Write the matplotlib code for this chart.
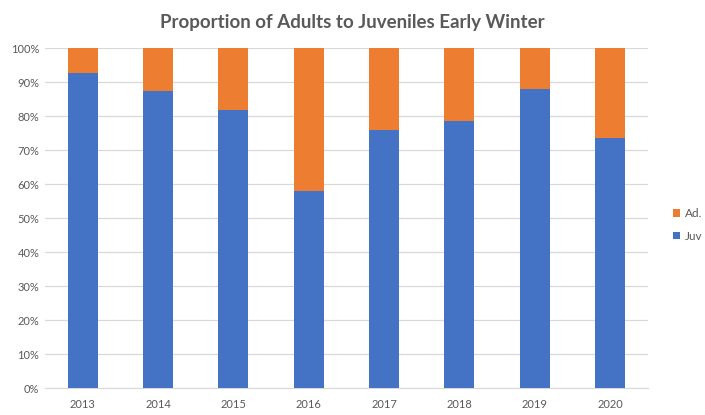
import matplotlib.pyplot as plt
from matplotlib.ticker import PercentFormatter

years = ['2013', '2014', '2015', '2016', '2017', '2018', '2019', '2020']
juv = [92.6, 87.4, 81.8, 57.9, 76.0, 78.6, 87.9, 73.5]
ad = [100 - v for v in juv]

plt.rcParams['font.family'] = ['Lato', 'DejaVu Sans']
grey = '#595959'

fig = plt.figure(figsize=(7.05, 4.15), dpi=100)
ax = fig.add_axes([0.0638, 0.065, 0.855, 0.819])

x = range(len(years))
b_juv = ax.bar(x, juv, width=0.4, color='#4472C4', label='Juv', zorder=3)
b_ad = ax.bar(x, ad, width=0.4, bottom=juv, color='#ED7D31', label='Ad.', zorder=3)

ax.set_xlim(-0.5, len(years) - 0.5)
ax.set_ylim(0, 100)
ax.set_yticks(range(0, 101, 10))
ax.yaxis.set_major_formatter(PercentFormatter(decimals=0))
ax.set_xticks(list(x))
ax.set_xticklabels(years)
ax.tick_params(length=0, labelsize=8, colors=grey, pad=8)
ax.tick_params(axis='y', pad=4)
ax.grid(axis='y', color='#D9D9D9', linewidth=0.9, zorder=0)
for s in ['top', 'right', 'left']:
    ax.spines[s].set_visible(False)
ax.spines['bottom'].set_color('#D9D9D9')

fig.text(0.5, 0.945, 'Proportion of Adults to Juveniles Early Winter',
         ha='center', va='center', fontsize=13.5, fontweight='bold', color=grey)

leg = fig.legend(handles=[b_ad, b_juv], labels=['Ad.', 'Juv'], loc='center left',
                 bbox_to_anchor=(0.94, 0.458), frameon=False, fontsize=8.5,
                 handlelength=0.6, handleheight=0.6, handletextpad=0.4,
                 labelspacing=1.0)
for t in leg.get_texts():
    t.set_color(grey)

fig.savefig('out.png', dpi=100)
